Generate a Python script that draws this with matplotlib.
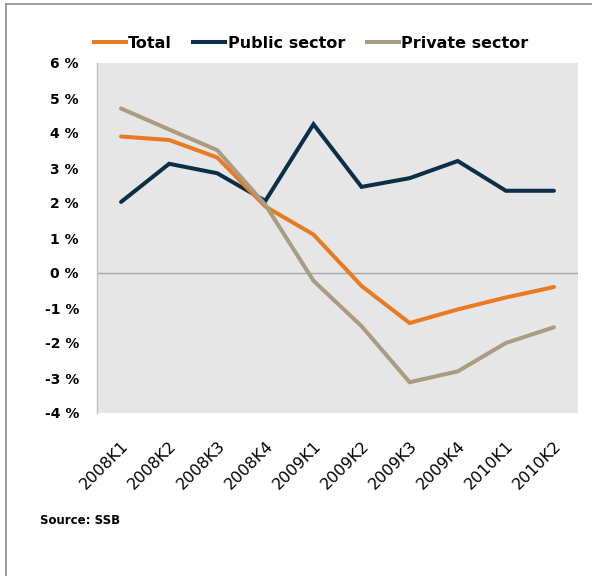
import matplotlib.pyplot as plt
from matplotlib.lines import Line2D

# Quarters and growth rates (%)
quarters = ["2008K1", "2008K2", "2008K3", "2008K4", "2009K1",
            "2009K2", "2009K3", "2009K4", "2010K1", "2010K2"]
total = [3.9, 3.8, 3.3, 1.9, 1.1, -0.37, -1.43, -1.04, -0.7, -0.4]
public_sector = [2.03, 3.12, 2.85, 2.06, 4.25, 2.46, 2.71, 3.2, 2.35, 2.35]
private_sector = [4.7, 4.1, 3.51, 1.95, -0.22, -1.52, -3.12, -2.81, -2.0, -1.55]
y_ticks = [-4, -3, -2, -1, 0, 1, 2, 3, 4, 5, 6]

c_total = '#E87A22'
c_public = '#0C2F48'
c_private = '#A99C80'

fig = plt.figure(figsize=(5.92, 5.76), dpi=100)
ax = fig.add_axes([97 / 592, 1 - 413 / 576, 481 / 592, 350 / 576])
ax.set_facecolor('#E6E6E6')

x = range(len(quarters))
lw = 2.9
ax.plot(x, public_sector, color=c_public, linewidth=lw, solid_capstyle='round', solid_joinstyle='miter', zorder=3)
ax.plot(x, total, color=c_total, linewidth=lw, solid_capstyle='round', solid_joinstyle='miter', zorder=4)
ax.plot(x, private_sector, color=c_private, linewidth=lw, solid_capstyle='round', solid_joinstyle='miter', zorder=5)

ax.axhline(0, color='#A6A6A6', linewidth=1, zorder=2)

ax.set_xlim(-0.5, len(quarters) - 0.5)
ax.set_ylim(-4, 6)
ax.set_yticks(y_ticks)
ax.set_yticklabels([f"{v} %" for v in y_ticks], fontweight='bold', fontsize=10)
ax.set_xticks(list(x))
ax.set_xticklabels(quarters, rotation=45, ha='right', rotation_mode='anchor', fontsize=11.5)
ax.tick_params(axis='y', length=0, pad=13)
ax.tick_params(axis='x', length=0, pad=18)

for side in ['top', 'right', 'bottom']:
    ax.spines[side].set_visible(False)
ax.spines['left'].set_color('#C0C0C0')
ax.spines['left'].set_linewidth(1)

handles = [Line2D([], [], color=c_total, linewidth=lw),
           Line2D([], [], color=c_public, linewidth=lw),
           Line2D([], [], color=c_private, linewidth=lw)]
fig.legend(handles, ['Total', 'Public sector', 'Private sector'],
           loc='center', bbox_to_anchor=(311 / 592, 1 - 43 / 576), ncol=3,
           frameon=False, prop={'weight': 'bold', 'size': 11.5},
           handlelength=2.0, handletextpad=0.15, columnspacing=1.35)

fig.text(40 / 592, 1 - 521 / 576, "Source: SSB", fontsize=8.5, fontweight='bold', va='center', ha='left')

# outer frame lines (top and left)
fig.add_artist(Line2D([6 / 592, 6 / 592], [0, 1 - 4 / 576], color='#8C8C8C', linewidth=1.2, transform=fig.transFigure))
fig.add_artist(Line2D([6 / 592, 1], [1 - 4 / 576, 1 - 4 / 576], color='#8C8C8C', linewidth=1.2, transform=fig.transFigure))

fig.savefig('out.png', dpi=100)
